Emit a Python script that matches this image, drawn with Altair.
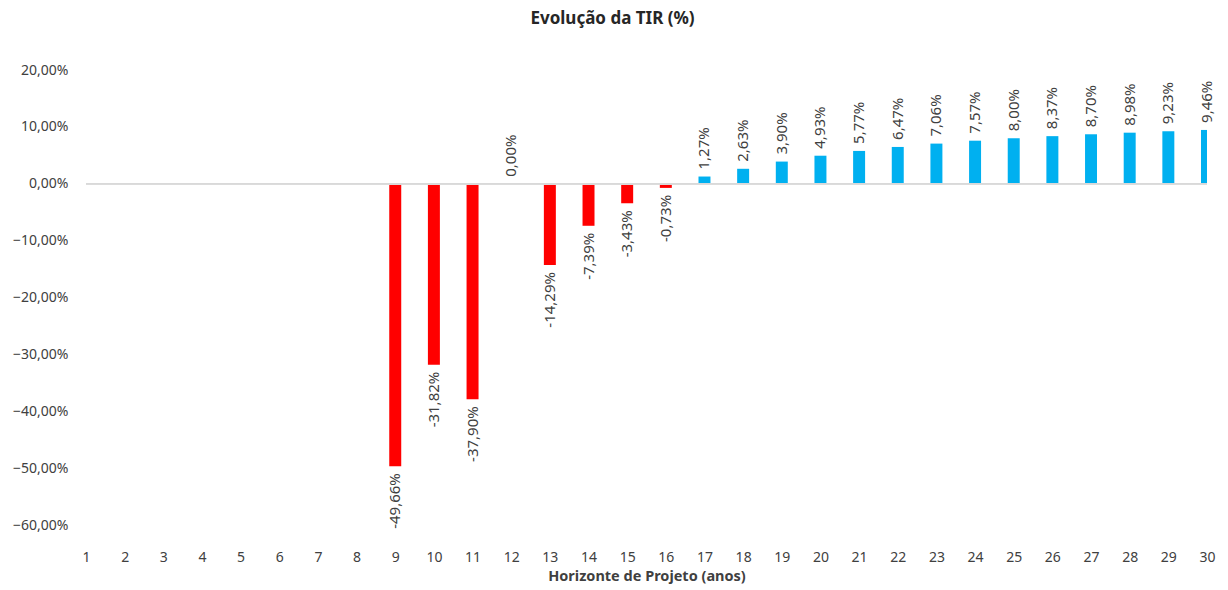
import altair as alt
import pandas as pd

years = list(range(9, 31))
tir = [-49.66, -31.82, -37.90, 0.00, -14.29, -7.39, -3.43, -0.73,
       1.27, 2.63, 3.90, 4.93, 5.77, 6.47, 7.06, 7.57, 8.00, 8.37,
       8.70, 8.98, 9.23, 9.46]
x_ticks = list(range(1, 31))
y_ticks = [-60, -50, -40, -30, -20, -10, 0, 10, 20]

df = pd.DataFrame({"ano": years, "tir": tir})
df["label"] = [("%.2f" % v).replace(".", ",") + "%" for v in tir]
df["cor"] = ["neg" if v < 0 else "pos" for v in tir]

FONT = "Noto Sans"

xscale = alt.Scale(domain=[1, 30], nice=False, zero=False)
yscale = alt.Scale(domain=[-60, 20], nice=False)

xaxis = alt.Axis(values=x_ticks, format="d", title="Horizonte de Projeto (anos)",
                 domain=False, ticks=False, grid=False, labelPadding=25,
                 labelFontSize=14, labelColor="#404040", labelFont=FONT,
                 labelOverlap=False,
                 titleFont=FONT, titleFontSize=14.5, titleFontWeight="bold",
                 titleColor="#404040", titlePadding=5, labelFlush=False)
yaxis = alt.Axis(values=y_ticks, title=None, domain=False, ticks=False, grid=False,
                 labelExpr="replace(format(datum.value, '.2f'), '.', ',') + '%'",
                 labelFontSize=14, labelColor="#404040", labelFont=FONT,
                 labelOverlap=False, labelPadding=18)

base = alt.Chart(df)

bars = base.mark_bar(clip=True).transform_calculate(
    x0="datum.ano - 0.155", x1="datum.ano + 0.155"
).encode(
    x=alt.X("x0:Q", scale=xscale, axis=xaxis),
    x2="x1:Q",
    y=alt.Y("tir:Q", scale=yscale, axis=yaxis),
    y2=alt.datum(0),
    color=alt.Color("cor:N", scale=alt.Scale(domain=["neg", "pos"], range=["#ff0000", "#00b0f0"]),
                    legend=None),
)

zero = base.mark_rule(color="#d9d9d9", strokeWidth=1.2).encode(
    y=alt.datum(0, scale=yscale, axis=yaxis))

lab_pos = base.transform_filter("datum.tir >= 0").mark_text(
    angle=270, align="left", baseline="middle", dx=7, fontSize=15, font=FONT, color="#404040"
).encode(x=alt.X("ano:Q", scale=xscale, axis=xaxis),
         y=alt.Y("tir:Q", scale=yscale, axis=yaxis), text="label:N")

lab_neg = base.transform_filter("datum.tir < 0").mark_text(
    angle=270, align="right", baseline="middle", dx=-7, fontSize=15, font=FONT, color="#404040"
).encode(x=alt.X("ano:Q", scale=xscale, axis=xaxis),
         y=alt.Y("tir:Q", scale=yscale, axis=yaxis), text="label:N")

chart = alt.layer(bars, zero, lab_pos, lab_neg).properties(
    width=1121, height=455,
    title=alt.TitleParams("Evolução da TIR (%)", font=FONT, fontSize=17, fontWeight="bold",
                          color="#262626", anchor="middle", offset=35, dx=-34),
    autosize=alt.AutoSizeParams(type="none"),
    padding={"left": 78, "top": 62, "right": 12, "bottom": 65},
).configure_view(stroke=None).configure_axisX(labelOverlap=False)

chart.save("out.html", embed_options={"renderer": "svg", "actions": False})
